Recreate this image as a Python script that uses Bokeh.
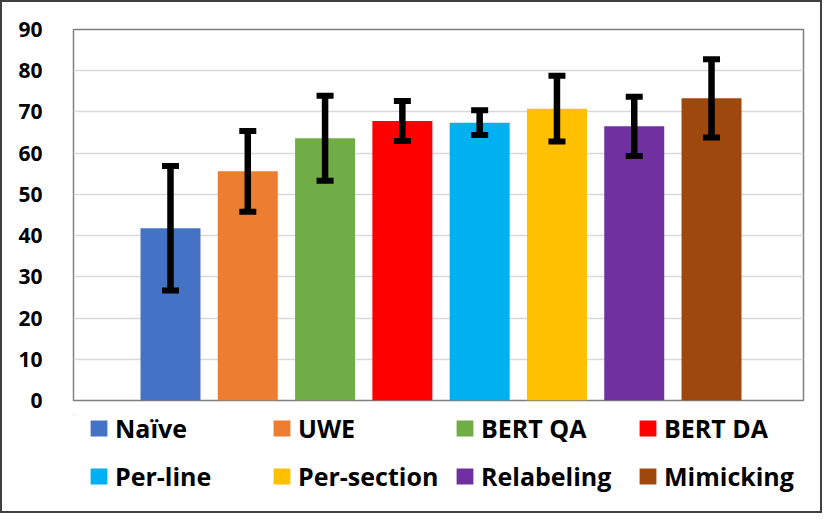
import numpy as np
from bokeh.plotting import figure
from bokeh.layouts import column
from bokeh.models import (ColumnDataSource, Range1d, Whisker, TeeHead, Legend, LegendItem,
                          SingleIntervalTicker)
from bokeh.embed import file_html
from bokeh.resources import INLINE

categories = ["Naïve", "UWE", "BERT QA", "BERT DA", "Per-line", "Per-section", "Relabeling", "Mimicking"]
values = [41.8, 55.6, 63.6, 67.8, 67.4, 70.8, 66.5, 73.3]
errors = [15.1, 9.8, 10.3, 4.85, 3.0, 8.0, 7.2, 9.5]
colors = ["#4472C4", "#ED7D31", "#70AD47", "#FF0000", "#00B0F0", "#FFC000", "#7030A0", "#9E480E"]

xs = np.arange(len(categories))
v = np.array(values)
e = np.array(errors)
src = ColumnDataSource(dict(x=xs, top=v, upper=v + e, lower=v - e, color=colors, name=categories))

FONT = "Open Sans"

p = figure(frame_width=730, frame_height=371, output_backend="svg", toolbar_location=None,
           x_range=Range1d(-1.255, 8.19), y_range=Range1d(0, 90),
           min_border_left=71, min_border_right=17, min_border_top=27, min_border_bottom=14)

r = p.vbar(x="x", top="top", width=0.776, fill_color="color", line_color=None, source=src)

head = dict(size=17, line_width=6, line_color="black")
w = Whisker(source=src, base="x", upper="upper", lower="lower", line_width=6.5, line_color="black",
            upper_head=TeeHead(**head), lower_head=TeeHead(**head), level="overlay")
p.add_layout(w)

p.xaxis.visible = False
p.xgrid.visible = False
p.yaxis.ticker = SingleIntervalTicker(interval=10)
p.yaxis.axis_line_color = None
p.yaxis.major_tick_line_color = None
p.yaxis.minor_tick_line_color = None
p.yaxis.major_tick_in = 0
p.yaxis.major_tick_out = 0
p.yaxis.major_label_standoff = 27
p.yaxis.major_label_text_font = FONT
p.yaxis.major_label_text_font_style = "bold"
p.yaxis.major_label_text_font_size = "21px"
p.yaxis.major_label_text_color = "black"
p.ygrid.grid_line_color = "#d9d9d9"
p.ygrid.grid_line_width = 1.5
p.outline_line_color = "#7f7f7f"
p.outline_line_width = 1.5

# legend panel: a second figure holding the legend rows (its bars are out of view)
leg = figure(frame_width=730, frame_height=97, output_backend="svg", toolbar_location=None,
             x_range=Range1d(100, 101), y_range=Range1d(-2, -1),
             min_border_left=71, min_border_right=17, min_border_top=0, min_border_bottom=0)
leg.xaxis.visible = False
leg.yaxis.visible = False
leg.grid.visible = False
leg.outline_line_color = None
leg.background_fill_color = "white"
leg.border_fill_color = "white"
lr = leg.vbar(x="x", top="top", width=0.776, fill_color="color", line_color=None, source=src)

row_y = [66.5, 18]
for k in range(2):
    items = [LegendItem(label=categories[i], renderers=[lr], index=i) for i in range(4 * k, 4 * k + 4)]
    lg = Legend(items=items, orientation="horizontal", location=(15, row_y[k]), padding=0, margin=0,
                border_line_color=None, background_fill_alpha=0,
                glyph_width=21, glyph_height=20, label_standoff=6, label_width=148,
                label_height=20, spacing=8,
                label_text_font=FONT, label_text_font_style="bold", label_text_font_size="25px",
                label_text_color="black")
    leg.add_layout(lg, "center")

layout = column(p, leg, spacing=0, styles={"border": "2px solid #404040"})

open("out.html", "w").write(file_html(layout, INLINE))
